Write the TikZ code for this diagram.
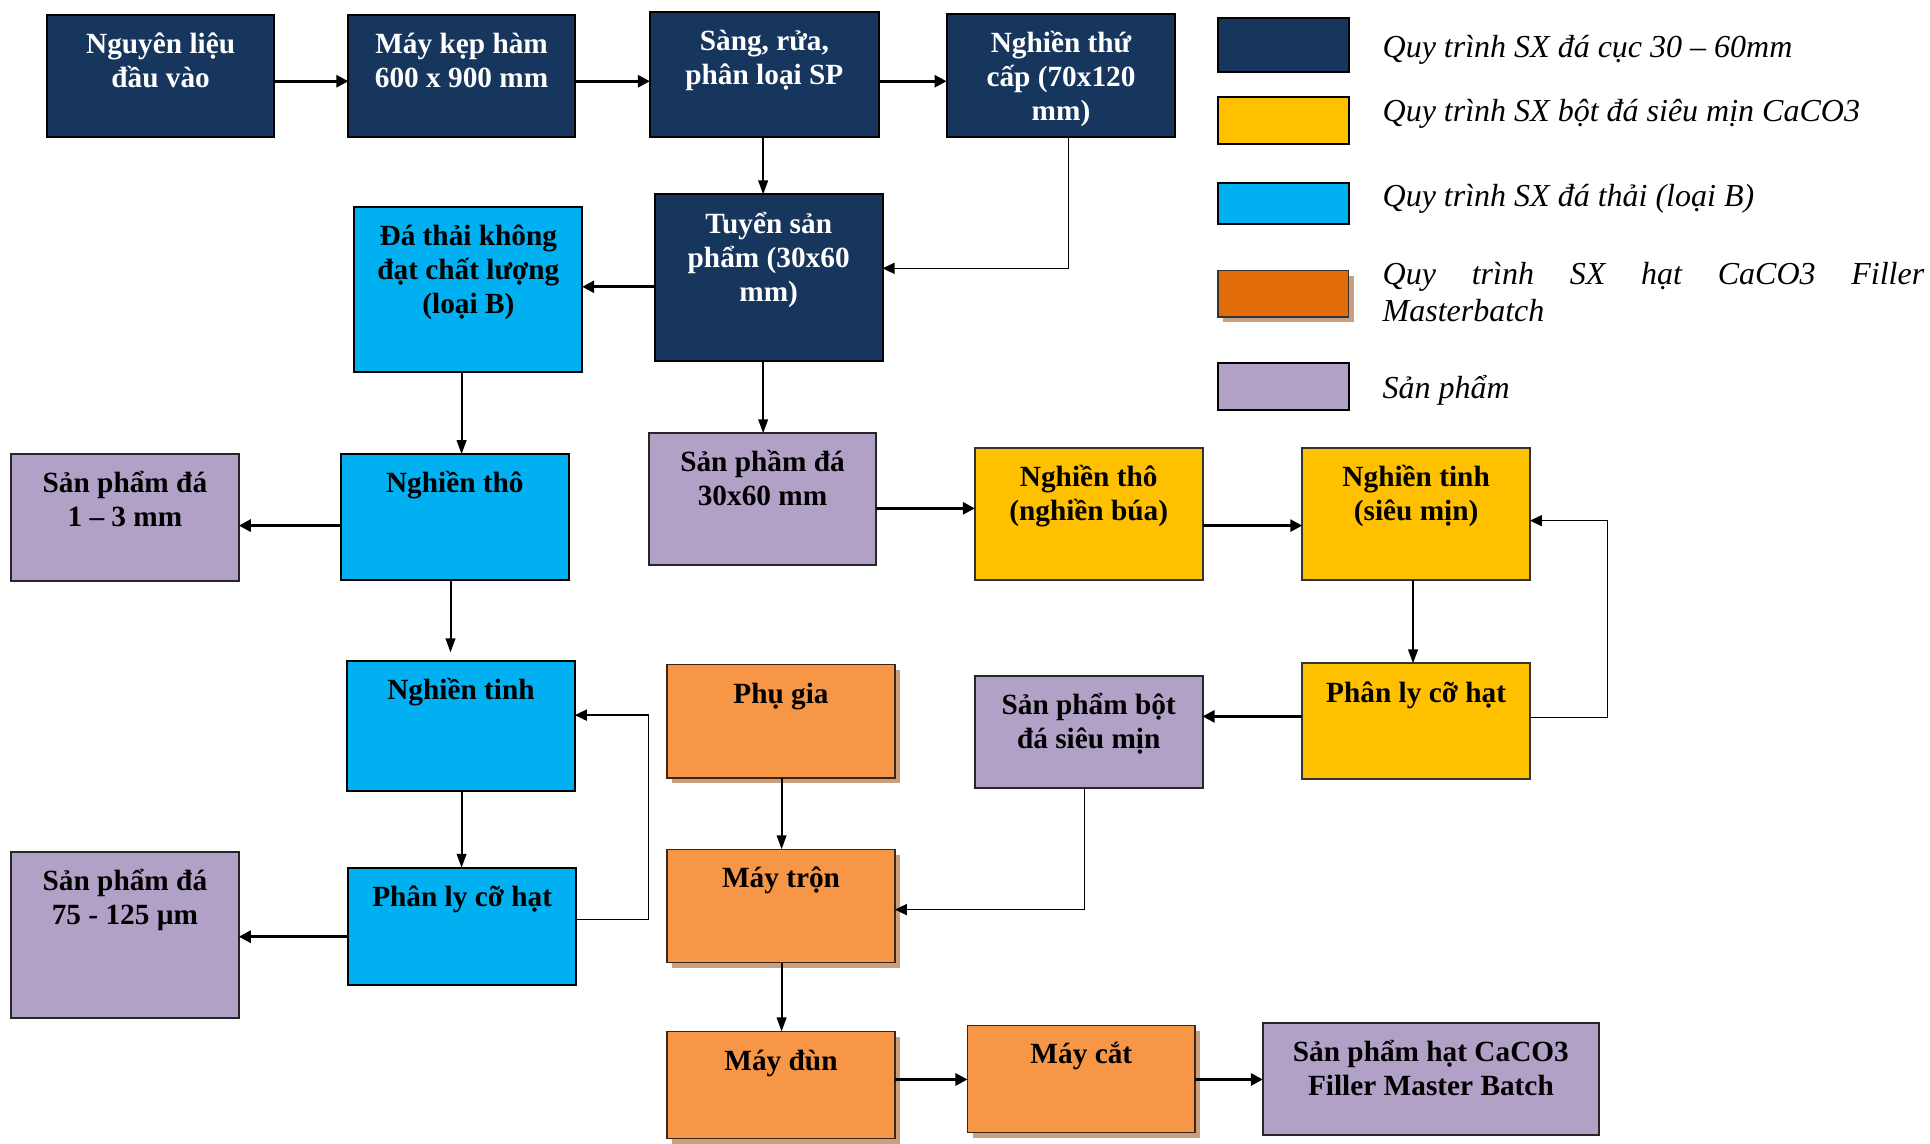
\documentclass[tikz,border=0pt]{standalone}
\usepackage{fontspec}
\setmainfont{Liberation Serif}
\usetikzlibrary{arrows.meta,shadows}
\definecolor{navy}{HTML}{17365D}
\definecolor{yel}{HTML}{FFC000}
\definecolor{cyanb}{HTML}{00B0F0}
\definecolor{orL}{HTML}{E36C0A}
\definecolor{orB}{HTML}{F79646}
\definecolor{purp}{HTML}{B2A1C7}
\definecolor{tan}{HTML}{C8A080}
\newcommand\bx[8]{%
  \node[#6, anchor=north west, inner sep=0pt, outer sep=0pt,
    minimum width={(#4-#2)*0.61543pt}, minimum height={(#5-#3)*0.61543pt}] (#1) at (#2,#3) {};
  \node[btxt, text=#7, anchor=north] (#1t) at ({(#2+#4)/2},{#3+9.07}) {\rule{0pt}{13.5pt}#8};
}
\tikzset{
  navybox/.style={draw=black, line width=1pt, fill=navy},
  cyanbox/.style={draw=black, line width=1pt, fill=cyanb},
  yelbox/.style={draw=black!80, line width=1pt, fill=yel},
  purpbox/.style={draw=black!85, line width=1pt, fill=purp},
  orbox/.style={draw=black!75!orB, line width=0.7pt, fill=orB,
    drop shadow={shadow xshift=2.6pt, shadow yshift=-2.6pt, fill=tan, opacity=1}},
  btxt/.style={inner sep=0pt, align=center, font=\fontsize{14.65}{17}\selectfont\bfseries},
  ltxt/.style={inner sep=0pt, anchor=base west, font=\fontsize{16}{18.5}\selectfont\itshape},
  harrow/.style={line width=1.4pt, -{Triangle[length=6pt,width=6pt]}},
  varrow/.style={line width=1pt, -{Triangle[length=7pt,width=4.8pt]}},
  larrow/.style={line width=0.8pt, -{Triangle[length=6pt,width=5.5pt]}},
}
\begin{document}
\begin{tikzpicture}[x=0.61543pt, y=-0.61543pt]
\useasboundingbox (0,0) rectangle (1568,929);
% row 1
\bx{n1}{38}{12}{223}{111}{navybox}{white}{Nguyên liệu\\đầu vào}
\bx{n2}{283}{12}{467}{111}{navybox}{white}{Máy kẹp hàm\\600 x 900 mm}
\bx{n3}{528}{10}{714}{111}{navybox}{white}{Sàng, rửa,\\phân loại SP}
\bx{n4}{769}{11}{955}{111}{navybox}{white}{Nghiền thứ\\cấp (70x120\\mm)}
% row 2
\bx{tuyen}{532}{158}{717}{293}{navybox}{white}{Tuyển sản\\phẩm (30x60\\mm)}
\bx{dathai}{288}{168}{473}{302}{cyanbox}{black}{Đá thải không\\đạt chất lượng\\(loại B)}
% row 3
\bx{sp13}{9}{369}{194}{472}{purpbox}{black}{Sản phẩm đá\\1 – 3 mm}
\bx{ntho}{277}{369}{462}{471}{cyanbox}{black}{Nghiền thô}
\bx{sp3060}{527}{352}{712}{459}{purpbox}{black}{Sản phầm đá\\30x60 mm}
\bx{nthoY}{792}{364}{977}{471}{yelbox}{black}{Nghiền thô\\(nghiền búa)}
\bx{ntinhY}{1058}{364}{1243}{471}{yelbox}{black}{Nghiền tinh\\(siêu mịn)}
% row 4
\bx{ntinh}{282}{537}{467}{643}{cyanbox}{black}{Nghiền tinh}
\bx{phugia}{542}{540}{727}{632}{orbox}{black}{Phụ gia}
\bx{spbot}{792}{549}{977}{640}{purpbox}{black}{Sản phẩm bột\\đá siêu mịn}
\bx{plY}{1058}{539}{1243}{633}{yelbox}{black}{Phân ly cỡ hạt}
% row 5
\bx{sp75}{9}{692}{194}{827}{purpbox}{black}{Sản phẩm đá\\75 - 125 µm}
\bx{plb}{283}{705}{468}{800}{cyanbox}{black}{Phân ly cỡ hạt}
\bx{maytron}{542}{690}{727}{782}{orbox}{black}{Máy trộn}
% row 6
\bx{mayduan}{542}{838}{727}{925}{orbox}{black}{Máy đùn}
\bx{maycat}{786}{833}{971}{920}{orbox}{black}{Máy cắt}
\bx{sphat}{1026}{831}{1299}{922}{purpbox}{black}{Sản phẩm hạt CaCO3\\Filler Master Batch}
% legend
\node[navybox, anchor=north west, inner sep=0pt, minimum width={106*0.61543pt}, minimum height={44*0.61543pt}] (lg1) at (989,14) {};
\node[yelbox, draw=black, anchor=north west, inner sep=0pt, minimum width={106*0.61543pt}, minimum height={38*0.61543pt}] (lg2) at (989,78) {};
\node[cyanbox, anchor=north west, inner sep=0pt, minimum width={106*0.61543pt}, minimum height={33*0.61543pt}] (lg3) at (989,148) {};
\node[draw=black!80, line width=0.8pt, fill=orL, drop shadow={shadow xshift=2.6pt, shadow yshift=-2.6pt, fill=tan, opacity=1}, anchor=north west, inner sep=0pt, minimum width={106*0.61543pt}, minimum height={38*0.61543pt}] (lg4) at (989,219) {};
\node[purpbox, draw=black, anchor=north west, inner sep=0pt, minimum width={106*0.61543pt}, minimum height={38*0.61543pt}] (lg5) at (989,294) {};
\node[ltxt] (lt1) at (1123,47) {Quy trình SX đá cục 30 – 60mm};
\node[ltxt] (lt2) at (1123,99) {Quy trình SX bột đá siêu mịn CaCO3};
\node[ltxt] (lt3) at (1123,168) {Quy trình SX đá thải (loại B)};
\node[ltxt] (lt4a) at (1123,231.5) {\makebox[270.8pt][s]{Quy trình SX hạt CaCO3 Filler}};
\node[ltxt] (lt4b) at (1123,261.5) {Masterbatch};
\node[ltxt] (lt5) at (1123,323.5) {Sản phẩm};
% connectors
\draw[harrow] (n1.east |- 0,66) -- (n2.west |- 0,66);
\draw[harrow] (n2.east |- 0,66) -- (n3.west |- 0,66);
\draw[harrow] (n3.east |- 0,66) -- (n4.west |- 0,66);
\draw[varrow] (620,0 |- n3.south) -- (620,0 |- tuyen.north);
\draw[larrow] (868,0 |- n4.south) -- (868,218) -- (tuyen.east |- 0,218);
\draw[harrow] (tuyen.west |- 0,233) -- (dathai.east |- 0,233);
\draw[varrow] (620,0 |- tuyen.south) -- (620,0 |- sp3060.north);
\draw[varrow] (375,0 |- dathai.south) -- (375,0 |- ntho.north);
\draw[harrow] (ntho.west |- 0,427) -- (sp13.east |- 0,427);
\draw[varrow] (366,0 |- ntho.south) -- (366,530);
\draw[varrow] (375,0 |- ntinh.south) -- (375,0 |- plb.north);
\draw[harrow] (plb.west |- 0,761) -- (sp75.east |- 0,761);
\draw[larrow] (plb.east |- 0,747) -- (527,747) -- (527,581) -- (ntinh.east |- 0,581);
\draw[harrow] (sp3060.east |- 0,413) -- (nthoY.west |- 0,413);
\draw[harrow] (nthoY.east |- 0,427) -- (ntinhY.west |- 0,427);
\draw[varrow] (1148,0 |- ntinhY.south) -- (1148,0 |- plY.north);
\draw[harrow] (plY.west |- 0,582) -- (spbot.east |- 0,582);
\draw[larrow] (plY.east |- 0,583) -- (1306,583) -- (1306,423) -- (ntinhY.east |- 0,423);
\draw[larrow] (881,0 |- spbot.south) -- (881,739) -- (maytron.east |- 0,739);
\draw[varrow] (635,0 |- phugia.south) -- (635,0 |- maytron.north);
\draw[varrow] (635,0 |- maytron.south) -- (635,0 |- mayduan.north);
\draw[harrow] (mayduan.east |- 0,877) -- (maycat.west |- 0,877);
\draw[harrow] (maycat.east |- 0,877) -- (sphat.west |- 0,877);
\end{tikzpicture}
\end{document}
